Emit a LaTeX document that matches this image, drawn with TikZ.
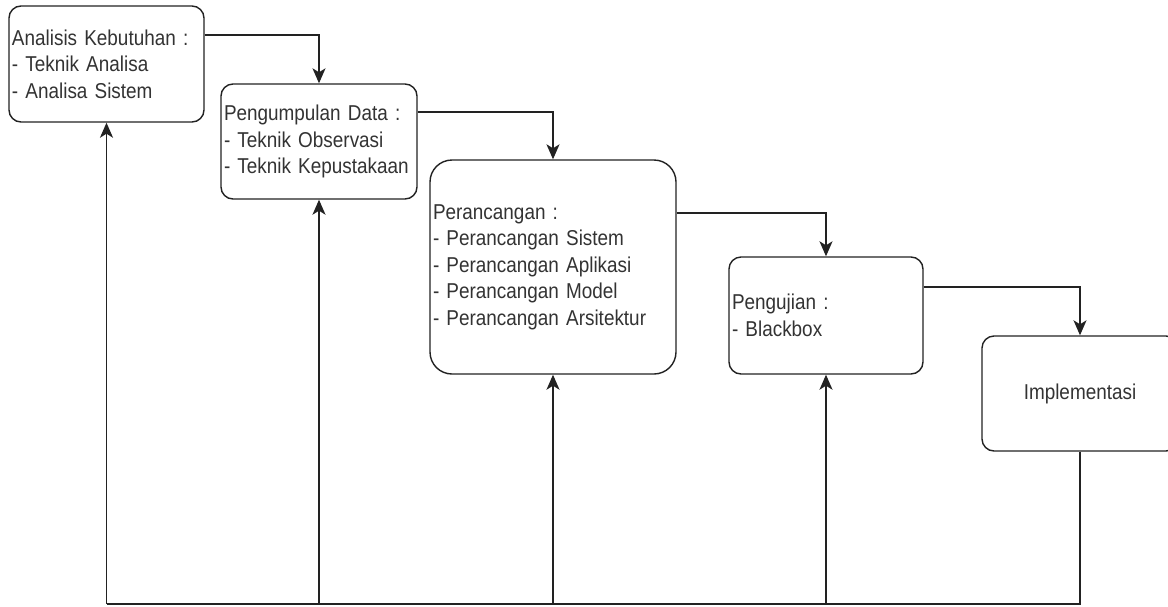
\documentclass[tikz,border=0pt]{standalone}
\usepackage{fontspec}
\setmainfont{Liberation Sans}[FakeStretch=0.88]
\usetikzlibrary{arrows.meta}
\definecolor{ink}{HTML}{222222}
\definecolor{txt}{HTML}{333333}
\begin{document}
\begin{tikzpicture}[x=1pt, y=-1pt, every node/.append style={text=txt, font=\fontsize{21.5}{26.5}\selectfont},
	box/.style={draw=ink, line width=1.4pt, rounded corners=12pt, align=left, inner xsep=3pt, inner ysep=0pt},
	flow/.style={draw=ink, line width=1.4pt, -{Stealth[length=15pt, width=13pt, inset=4pt]}}]
	\useasboundingbox[fill=white] (0,0) rectangle (1168,606);
	\node[box, minimum width=195pt, minimum height=116pt, text width=189pt] (ak) at (106.5,64) {Analisis Kebutuhan :\\- Teknik Analisa\\- Analisa Sistem};
	\node[box, minimum width=196pt, minimum height=115pt, text width=190pt] (pd) at (319,141.5) {Pengumpulan Data :\\- Teknik Observasi\\- Teknik Kepustakaan};
	\node[box, rounded corners=22pt, minimum width=246pt, minimum height=214pt, text width=240pt] (pr) at (553,267) {Perancangan :\\- Perancangan Sistem\\- Perancangan Aplikasi\\- Perancangan Model\\- Perancangan Arsitektur};
	\node[box, minimum width=194pt, minimum height=117pt, text width=188pt] (pu) at (826,315.5) {Pengujian :\\- Blackbox};
	\node[box, align=center, minimum width=196pt, minimum height=115pt] (im) at (1080,393.5) {Implementasi};
	
	% alur ke bawah
	\draw[flow] ([yshift=29pt]ak.east) -| (pd.north);
	\draw[flow] ([yshift=29.5pt]pd.east) -| (pr.north);
	\draw[flow] ([yshift=54pt]pr.east) -| (pu.north);
	\draw[flow] ([yshift=28.5pt]pu.east) -| (im.north);
	
	% umpan balik
	\coordinate (bl) at (0,604);
	\draw[draw=ink, line width=1.4pt] (im.south) |- (ak.south |- bl);
	\foreach \n in {ak, pd, pr, pu}
	{
		\draw[flow] (\n.south |- bl) -- (\n.south);
	}
\end{tikzpicture}
\end{document}
